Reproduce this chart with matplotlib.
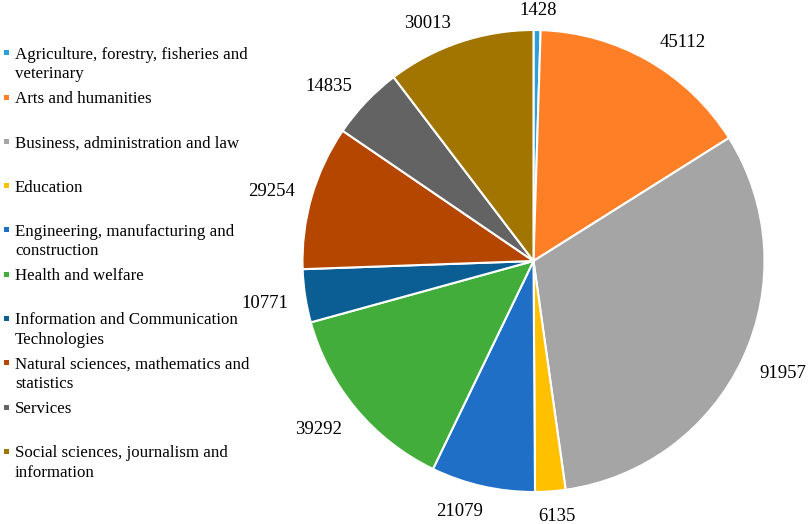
import numpy as np
import matplotlib
matplotlib.use("Agg")
import matplotlib.pyplot as plt
from matplotlib.patches import Rectangle

categories = [
    "Agriculture, forestry, fisheries and\nveterinary",
    "Arts and humanities",
    "Business, administration and law",
    "Education",
    "Engineering, manufacturing and\nconstruction",
    "Health and welfare",
    "Information and Communication\nTechnologies",
    "Natural sciences, mathematics and\nstatistics",
    "Services",
    "Social sciences, journalism and\ninformation",
]
values = [1428, 45112, 91957, 6135, 21079, 39292, 10771, 29254, 14835, 30013]
colors = ["#2A9FD8", "#FF7F27", "#A5A5A5", "#FFC000", "#1F6FC6",
          "#43AD3B", "#0B5E94", "#B54600", "#636363", "#A27500"]

W, H = 809, 524
fig = plt.figure(figsize=(W / 100, H / 100), dpi=100)
plt.rcParams['font.family'] = ['Liberation Serif', 'DejaVu Serif']

cx, cy, R = 533.5, 261.0, 231.0
ax = fig.add_axes([(cx - R) / W, (H - cy - R) / H, 2 * R / W, 2 * R / H])
wedges, _ = ax.pie(values, colors=colors, startangle=90, counterclock=False,
                   radius=1.0, wedgeprops=dict(edgecolor="white", linewidth=1.5))
ax.set_xlim(-1, 1)
ax.set_ylim(-1, 1)
ax.set_aspect("equal")
ax.axis("off")

label_fs = 13.5
total = float(sum(values))
cum = 0.0
for v in values:
    mid = (cum + v / 2.0) / total * 360.0
    cum += v
    th = np.radians(mid)
    s, c = np.sin(th), np.cos(th)
    txt = str(v)
    w = len(txt) * 0.5 * label_fs * 100 / 72
    d = R + 13.5
    px = d * s + (w / 2 + 4) * np.clip(s / 0.3, -1, 1)
    py = d * c + 9 * np.clip(c / 0.6, -1, 1) - 3
    ax.text(px / R, py / R, txt, ha="center", va="center",
            fontsize=label_fs, color="black", clip_on=False)

# legend
leg_fs = 12.2
for i, (lab, col) in enumerate(zip(categories, colors)):
    y0 = 52.7 + 44.3 * i
    fig.patches.append(Rectangle(((6 - 2.5) / W, 1 - (y0 + 2.5) / H), 5 / W, 5 / H,
                                 transform=fig.transFigure, facecolor=col,
                                 edgecolor="none"))
    for j, line in enumerate(lab.split("\n")):
        fig.text(15 / W, 1 - (y0 + 2 + 19.5 * j) / H, line, ha="left", va="center",
                 fontsize=leg_fs, color="black")

fig.savefig("out.png", dpi=100)
